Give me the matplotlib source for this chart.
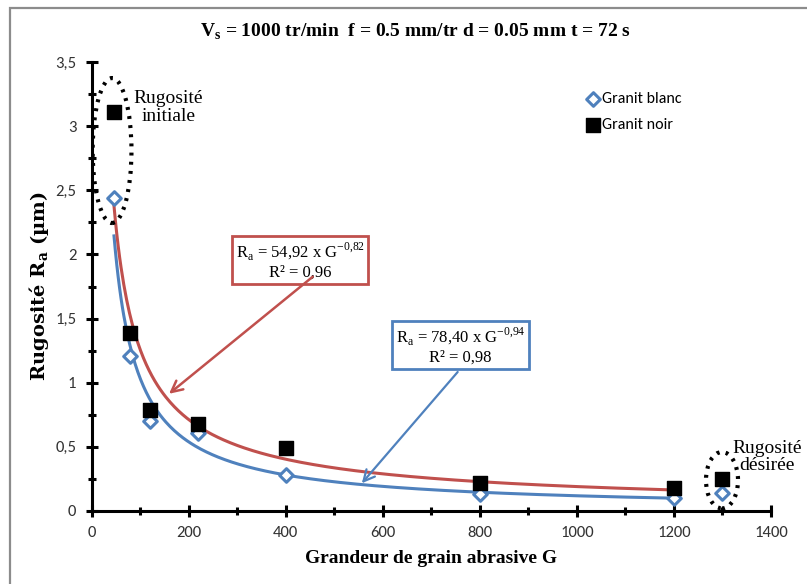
import numpy as np
import matplotlib.pyplot as plt
from matplotlib.patches import Ellipse, Rectangle
from matplotlib.ticker import MultipleLocator, FuncFormatter

# grain sizes and roughness values
grain = [46, 80, 120, 220, 400, 800, 1200]
ra_blanc = [2.44, 1.21, 0.70, 0.61, 0.28, 0.13, 0.10]
ra_noir = [3.11, 1.39, 0.79, 0.68, 0.49, 0.22, 0.18]

# desired roughness (reference point)
grain_des = [1300]
blanc_des = [0.14]
noir_des = [0.25]

# power law trend lines shown on the chart: Ra = a * G^b
a_blanc, b_blanc = 78.40, -0.94
a_noir, b_noir = 54.92, -0.82

blue = '#4F81BD'
red = '#C0504D'
serif = 'Liberation Serif'
sans = ['Carlito', 'Lato', 'DejaVu Sans']

fig = plt.figure(figsize=(8.07, 5.84), dpi=100)
ax = fig.add_axes([0.1136, 0.125, 0.8418, 0.7688])

# chart area border
fig.patches.append(Rectangle((10 / 807, -0.05), 0.99, 1 - 8 / 584 + 0.05,
                             transform=fig.transFigure, fill=False,
                             edgecolor='#8C8C8C', linewidth=1.6, zorder=0))

g = np.linspace(grain[0], grain[-1], 400)
ax.plot(g, a_blanc * g ** b_blanc, color=blue, lw=2.2, zorder=2)
ax.plot(g, a_noir * g ** b_noir, color=red, lw=2.2, zorder=2)

allg = grain + grain_des
ax.scatter(allg, ra_blanc + blanc_des, marker='D', s=48, facecolor='white',
           edgecolor=blue, linewidth=2.2, zorder=3, label='Granit blanc')
ax.scatter(allg, ra_noir + noir_des, marker='s', s=90, color='black',
           zorder=4, label='Granit noir')

ax.set_xlim(0, 1400)
ax.set_ylim(0, 3.5)
ax.xaxis.set_major_locator(MultipleLocator(200))
ax.xaxis.set_minor_locator(MultipleLocator(100))
ax.yaxis.set_major_locator(MultipleLocator(0.5))
ax.yaxis.set_minor_locator(MultipleLocator(0.25))
ax.yaxis.set_major_formatter(FuncFormatter(lambda v, p: ('%g' % v).replace('.', ',')))
for s in ['top', 'right']:
    ax.spines[s].set_visible(False)
for s in ['left', 'bottom']:
    ax.spines[s].set_linewidth(2.2)
ax.tick_params(which='major', direction='inout', length=8, width=2.2, labelsize=12, pad=7)
ax.tick_params(which='minor', direction='inout', length=6, width=2.2)
for lab in ax.get_xticklabels() + ax.get_yticklabels():
    lab.set_family(sans)
    lab.set_color('#333333')

ax.set_xlabel('Grandeur de grain abrasive G', family=serif, fontweight='bold', fontsize=14, labelpad=7)
ax.set_ylabel(r'Rugosité R$_\mathregular{a}$ (µm)', family='DejaVu Serif', fontweight='bold',
              fontsize=14, labelpad=3)
fig.text(415 / 807, 1 - 32 / 584,
         r'V$_\mathregular{s}$ = 1000 tr/min  f = 0.5 mm/tr d = 0.05 mm t = 72 s',
         ha='center', va='center', family=serif, fontweight='bold', fontsize=14)

leg = ax.legend(loc='upper left', bbox_to_anchor=(0.705, 0.965), frameon=False,
                prop={'family': sans, 'size': 11.5}, handletextpad=0.05,
                labelspacing=0.75, handlelength=1.0)

# dotted ellipses around initial and desired roughness
ax.add_patch(Ellipse((42, 2.81), 80, 1.13, fill=False, edgecolor='black',
                     linestyle=(0, (0.7, 1.5)), linewidth=3, zorder=5))
ax.add_patch(Ellipse((1299, 0.24), 66, 0.44, fill=False, edgecolor='black',
                     linestyle=(0, (0.7, 1.5)), linewidth=3, zorder=5, clip_on=False))
ax.text(158, 3.145, 'Rugosité\ninitiale', ha='center', va='center', family=serif,
        fontsize=14, linespacing=1.05)
ax.text(1392, 0.42, 'Rugosité\ndésirée', ha='center', va='center', family=serif,
        fontsize=14, linespacing=1.05, clip_on=False)

# trend line equations with arrows
ax.text(430, 1.95, 'R$_\\mathregular{a}$ = 54,92 x G$^{\\mathregular{-0{,}82}}$\nR² = 0,96',
        ha='center', va='center', family=serif, fontsize=12, linespacing=1.1,
        bbox=dict(boxstyle='square,pad=0.2', facecolor='white', edgecolor=red, linewidth=2))
ax.annotate('', xy=(155, 0.9), xytext=(460, 1.84),
            arrowprops=dict(arrowstyle='->,head_length=0.8,head_width=0.4', color=red, lw=1.8))
ax.text(760, 1.29, 'R$_\\mathregular{a}$ = 78,40 x G$^{\\mathregular{-0{,}94}}$\nR² = 0,98',
        ha='center', va='center', family=serif, fontsize=12, linespacing=1.1,
        bbox=dict(boxstyle='square,pad=0.2', facecolor='white', edgecolor=blue, linewidth=2))
ax.annotate('', xy=(553, 0.2), xytext=(758, 1.1),
            arrowprops=dict(arrowstyle='->,head_length=0.8,head_width=0.4', color=blue, lw=1.6))

fig.savefig('out.png', dpi=100)
